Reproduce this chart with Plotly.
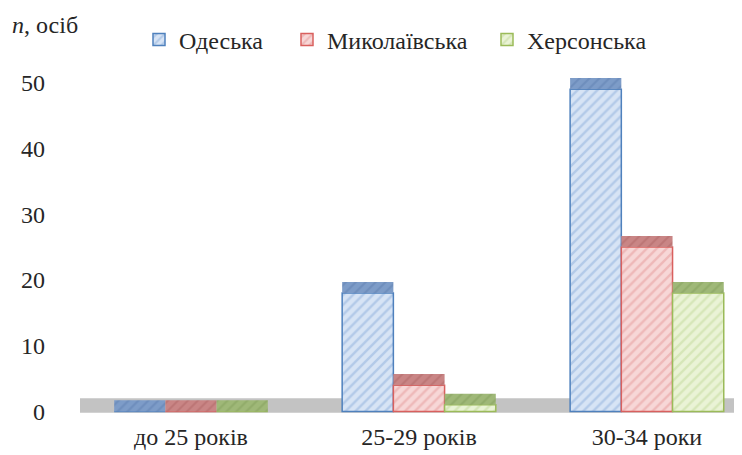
import plotly.graph_objects as go

categories = ["до 25 років", "25-29 років", "30-34 роки"]
series_names = ["Одеська", "Миколаївська", "Херсонська"]
odeska = [0, 18, 49]
mykolaivska = [0, 4, 25]
khersonska = [0, 1, 18]
y_ticks = [0, 10, 20, 30, 40, 50]

series_values = [odeska, mykolaivska, khersonska]

styles = [
    dict(bg="#d7e4f5", fg="#8fb0dc", line="#4f81bd", top="#7d9cc8", topfg="#5f80b0"),
    dict(bg="#f7d7d7", fg="#e59a9a", line="#d9605e", top="#c98585", topfg="#b06565"),
    dict(bg="#eaf3d6", fg="#c2d99a", line="#9bbb59", top="#9fb878", topfg="#849f5c"),
]
TOP_DEPTH = 1.7
FONT = "Liberation Serif, Times New Roman, serif"
FS = 24
# the page shows the figure with an 8px body margin, so the figure is 8px smaller
W, H = 734, 447
ML, MR, MT, MB = 72, 0, 55, 37

fig = go.Figure()

for i, (name, vals, st) in enumerate(zip(series_names, series_values, styles)):
    legend_id = "legend" if i == 0 else f"legend{i + 1}"
    fig.add_trace(go.Bar(
        x=categories, y=vals, name=name, offsetgroup=str(i),
        legend=legend_id,
        marker=dict(color=st["bg"], line=dict(color=st["line"], width=1.5),
                    pattern=dict(shape="/", fgcolor=st["fg"], size=7,
                                 solidity=0.35, fillmode="overlay")),
        hoverinfo="x+y+name",
    ))
    fig.add_trace(go.Bar(
        x=categories, y=[TOP_DEPTH] * len(vals), base=vals, offsetgroup=str(i),
        showlegend=False, hoverinfo="skip",
        marker=dict(color=st["top"], line=dict(width=0),
                    pattern=dict(shape="/", fgcolor=st["topfg"], size=7,
                                 solidity=0.3, fillmode="overlay")),
    ))

fig.add_shape(type="rect", xref="paper", yref="y", x0=0.0, x1=1.0, y0=-0.2, y1=2.0,
              fillcolor="#c3c3c3", line=dict(width=0), layer="below")

legend_common = dict(orientation="h", xref="container", yref="container",
                     yanchor="middle", xanchor="left", y=1 - 32 / H,
                     font=dict(family=FONT, size=FS, color="#262626"),
                     bgcolor="rgba(0,0,0,0)", itemwidth=30)

plot_w = W - ML - MR
plot_h = H - MT - MB

fig.update_layout(
    width=W, height=H,
    margin=dict(l=ML, r=MR, t=MT, b=MB, autoexpand=False),
    paper_bgcolor="white", plot_bgcolor="white",
    barmode="group", bargap=0.326, bargroupgap=0,
    font=dict(family=FONT, size=FS, color="#262626"),
    legend=dict(**legend_common, x=131 / W),
    legend2=dict(**legend_common, x=279 / W),
    legend3=dict(**legend_common, x=479 / W),
    xaxis=dict(range=[-0.487, 2.417], showgrid=False, zeroline=False, showline=False,
               ticks="", tickfont=dict(family=FONT, size=FS, color="#262626"),
               ticklabelstandoff=2, automargin=False),
    yaxis=dict(range=[-1, 53], tickvals=y_ticks, showgrid=False, zeroline=False,
               showline=False, ticks="", ticklabelstandoff=34, automargin=False,
               tickfont=dict(family=FONT, size=FS, color="#262626")),
    annotations=[dict(text="<i>n</i>, осіб", xref="paper", yref="paper",
                      x=(2 - ML) / plot_w, y=(H - MB - 17) / plot_h,
                      xanchor="left", yanchor="middle",
                      showarrow=False, font=dict(family=FONT, size=24, color="#262626"))],
)

fig.write_html("out.html")
